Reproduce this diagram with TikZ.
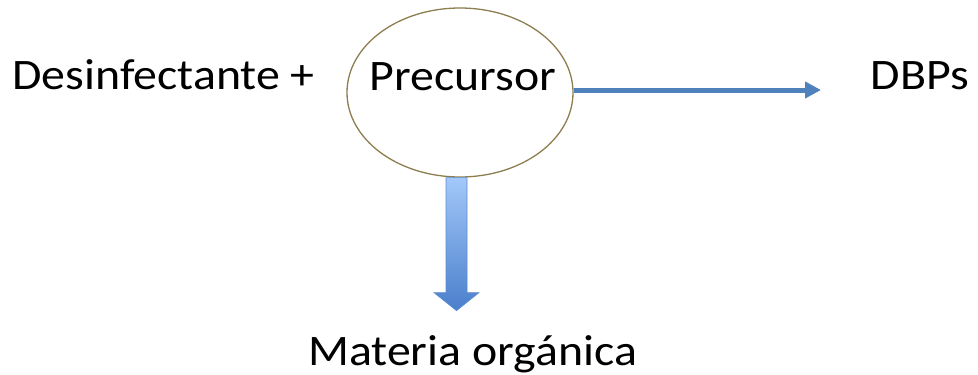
\documentclass[tikz,border=0pt]{standalone}
\usepackage{fontspec}
\setmainfont{Carlito}
\usetikzlibrary{shapes.geometric,arrows.meta,calc}
\definecolor{arrowblue}{HTML}{4F81BD}
\definecolor{olive}{HTML}{8C7E4E}
\definecolor{lightb}{HTML}{A3C8FA}
\definecolor{darkb}{HTML}{4A7FCB}
\newcommand{\wtxt}[1]{\scalebox{1.1}[1]{\fontsize{43.5}{52}\selectfont #1}}
\tikzset{
  lbl/.style={inner sep=0pt, anchor=base},
  ell/.style={ellipse, draw=olive, line width=1.3pt, minimum width=226pt, minimum height=169pt, inner sep=0pt},
  thinarrow/.style={draw=arrowblue, line width=5pt, -{Triangle[length=16pt,width=16pt]}}
}
\begin{document}
\begin{tikzpicture}[x=1pt,y=-1pt]
\useasboundingbox (0,0) rectangle (978,375);
\node[ell] (p) at (460,92.5) {};
\node[lbl] (prec) at (463,90.5) {\wtxt{Precursor}};
\node[lbl] (des) at (163.5,89.5) {\wtxt{Desinfectante +}};
\node[lbl] (dbp) at (920,89.5) {\wtxt{DBPs}};
\node[lbl] (mat) at (472.5,365) {\wtxt{Materia orgánica}};
\coordinate (tip) at (821,90);
\draw[thinarrow] (p.east |- tip) -- (tip);
\shade[top color=lightb, bottom color=darkb, draw=darkb!90, line width=0.6pt]
  ($(p.south)+(-14,0)$) -- ($(p.south)+(7,0)$) -- ($(p.south)+(7,115)$) -- ($(p.south)+(19,115)$)
  -- ($(p.south)+(-3.5,133)$) -- ($(p.south)+(-26,115)$) -- ($(p.south)+(-14,115)$) -- cycle;
\end{tikzpicture}
\end{document}
